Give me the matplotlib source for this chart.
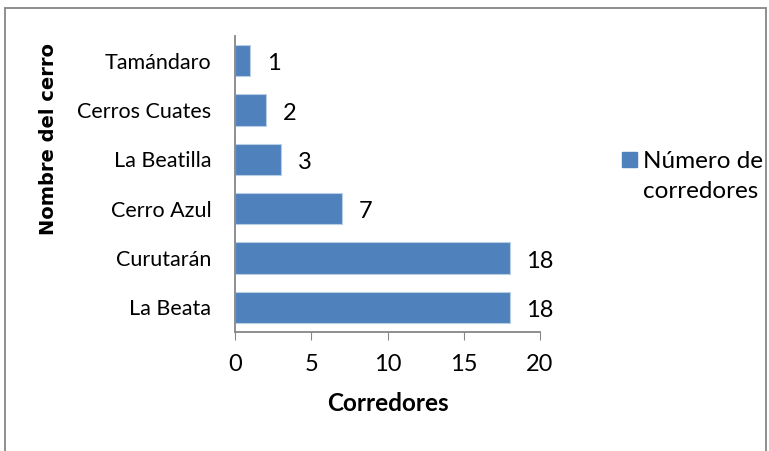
import matplotlib.pyplot as plt
from matplotlib.patches import Rectangle

cerros = ["La Beata", "Curutarán", "Cerro Azul", "La Beatilla", "Cerros Cuates", "Tamándaro"]
corredores = [18, 18, 7, 3, 2, 1]
xticks = [0, 5, 10, 15, 20]

plt.rcParams["font.family"] = ["Lato", "DejaVu Sans"]

fig = plt.figure(figsize=(7.69, 4.51), dpi=100)
# axes box in pixel coords: x 235..540, y 36..332 (from top)
W, H = 769, 451
ax = fig.add_axes([235 / W, 1 - 332 / H, 305 / W, 296 / H])

ax.barh(range(len(cerros)), corredores, height=0.63, color="#4F81BD",
        edgecolor="#B9CDE5", linewidth=0.8)

for i, v in enumerate(corredores):
    ax.annotate(str(v), xy=(v, i), xytext=(17, -3), textcoords="offset pixels",
                ha="left", va="center", fontsize=17, color="black")

ax.set_xlim(0, 20)
ax.set_ylim(-0.5, len(cerros) - 0.5)
ax.set_xticks(xticks)
ax.set_yticks(range(len(cerros)))
ax.set_yticklabels(cerros)
ax.tick_params(axis="x", direction="out", length=6, color="#868686", labelsize=17, pad=10)
ax.tick_params(axis="y", length=0, labelsize=15.5, pad=17)
for s in ["top", "right"]:
    ax.spines[s].set_visible(False)
for s in ["left", "bottom"]:
    ax.spines[s].set_color("#868686")
    ax.spines[s].set_linewidth(1.3)

ax.set_xlabel("Corredores", fontsize=17.5, fontweight="bold", labelpad=12)
fig.text(49 / W, 1 - 139 / H, "Nombre del cerro", rotation=90, ha="center", va="center",
         fontsize=14, fontweight="bold", family="DejaVu Sans")

# legend drawn as figure-level key
fig.patches.append(Rectangle((622 / W, 1 - 167 / H), 15 / W, 15 / H,
                             transform=fig.transFigure, color="#4F81BD"))
fig.text(643 / W, 1 - 161 / H, "Número de", fontsize=17.5, va="center", ha="left")
fig.text(643 / W, 1 - 192 / H, "corredores", fontsize=17.5, va="center", ha="left")

# outer chart border
fig.patches.append(Rectangle((5 / W, -0.05), 761 / W, 1 - 8 / H + 0.05,
                             transform=fig.transFigure, fill=False,
                             edgecolor="#868686", linewidth=1.3))

fig.savefig("out.png", dpi=100)
